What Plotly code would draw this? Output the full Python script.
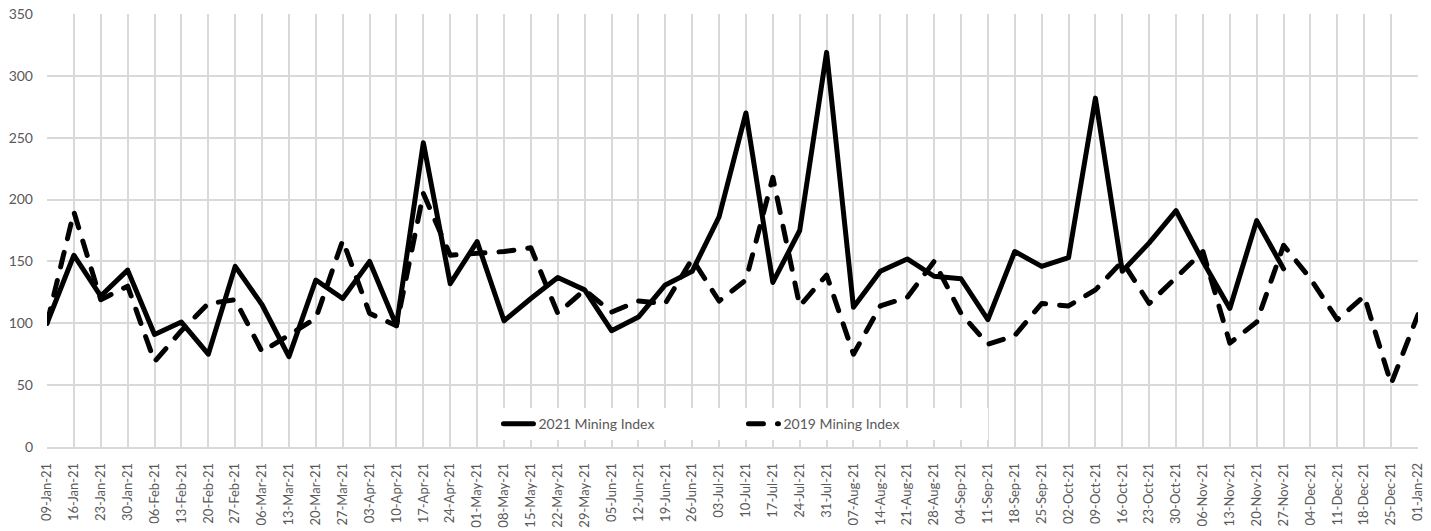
import plotly.graph_objects as go

# Weekly dates (week ending), 09-Jan-21 to 01-Jan-22
weeks = [
    "09-Jan-21", "16-Jan-21", "23-Jan-21", "30-Jan-21", "06-Feb-21", "13-Feb-21",
    "20-Feb-21", "27-Feb-21", "06-Mar-21", "13-Mar-21", "20-Mar-21", "27-Mar-21",
    "03-Apr-21", "10-Apr-21", "17-Apr-21", "24-Apr-21", "01-May-21", "08-May-21",
    "15-May-21", "22-May-21", "29-May-21", "05-Jun-21", "12-Jun-21", "19-Jun-21",
    "26-Jun-21", "03-Jul-21", "10-Jul-21", "17-Jul-21", "24-Jul-21", "31-Jul-21",
    "07-Aug-21", "14-Aug-21", "21-Aug-21", "28-Aug-21", "04-Sep-21", "11-Sep-21",
    "18-Sep-21", "25-Sep-21", "02-Oct-21", "09-Oct-21", "16-Oct-21", "23-Oct-21",
    "30-Oct-21", "06-Nov-21", "13-Nov-21", "20-Nov-21", "27-Nov-21", "04-Dec-21",
    "11-Dec-21", "18-Dec-21", "25-Dec-21", "01-Jan-22",
]

# 2021 index (data runs to 27-Nov-21)
mining_2021 = [
    100, 155, 122, 143, 91, 101, 75, 146, 115, 73, 135, 120,
    150, 98, 246, 132, 166, 102, 120, 137, 127, 94, 105, 131,
    142, 186, 270, 133, 175, 319, 113, 142, 152, 138, 136, 103,
    158, 146, 153, 282, 142, 165, 191, 150, 112, 183, 144,
]

# 2019 index, full year
mining_2019 = [
    100, 190, 119, 130, 69, 94, 116, 119, 77, 90, 104, 167,
    108, 98, 205, 155, 156, 158, 161, 108, 127, 109, 118, 116,
    152, 118, 135, 218, 114, 139, 75, 114, 121, 150, 108, 83,
    90, 116, 114, 127, 150, 116, 137, 158, 84, 101, 163, 136,
    103, 122, 51, 107,
]

FONT = "Lato"
GREY_TEXT = "#595959"
GRID = "#d9d9d9"

fig = go.Figure()
fig.add_trace(go.Scatter(
    x=weeks[:len(mining_2021)], y=mining_2021, mode="lines",
    name="2021 Mining Index",
    line=dict(color="#000000", width=5),
))
fig.add_trace(go.Scatter(
    x=weeks, y=mining_2019, mode="lines",
    name="2019 Mining Index",
    line=dict(color="#000000", width=5, dash="15px,14px"),
))

fig.update_layout(
    width=1431, height=531,
    margin=dict(l=47, r=13, t=14, b=84, autoexpand=False),
    paper_bgcolor="white", plot_bgcolor="white",
    font=dict(family=FONT, color=GREY_TEXT),
    showlegend=True,
    legend=dict(
        orientation="h", x=0.508, xanchor="center", y=0.053, yanchor="middle",
        bgcolor="white", font=dict(size=14, color=GREY_TEXT, family=FONT),
        itemwidth=30, entrywidth=200, entrywidthmode="pixels",
    ),
    hovermode=False,
)

fig.update_xaxes(
    type="category", categoryorder="array", categoryarray=weeks,
    range=[0, len(weeks) - 1],
    showgrid=True, gridcolor=GRID, gridwidth=1.5,
    showline=True, linecolor=GRID, linewidth=1.5,
    tickangle=-90, tickfont=dict(size=13, color=GREY_TEXT, family=FONT),
    ticks="", ticklabelstandoff=9, zeroline=False,
)
fig.update_yaxes(
    range=[0, 350], dtick=50, tick0=0,
    showgrid=True, gridcolor=GRID, gridwidth=1.5,
    showline=False, zeroline=False,
    tickfont=dict(size=14, color=GREY_TEXT, family=FONT),
    ticks="", ticklabelstandoff=13,
)

# round line caps/joins on the series strokes
post = """
var s = document.createElement('style');
s.textContent = '.js-line{stroke-linecap:round !important;stroke-linejoin:round !important;}';
document.head.appendChild(s);
"""

fig.write_html("out.html", post_script=post, config={"displayModeBar": False})
